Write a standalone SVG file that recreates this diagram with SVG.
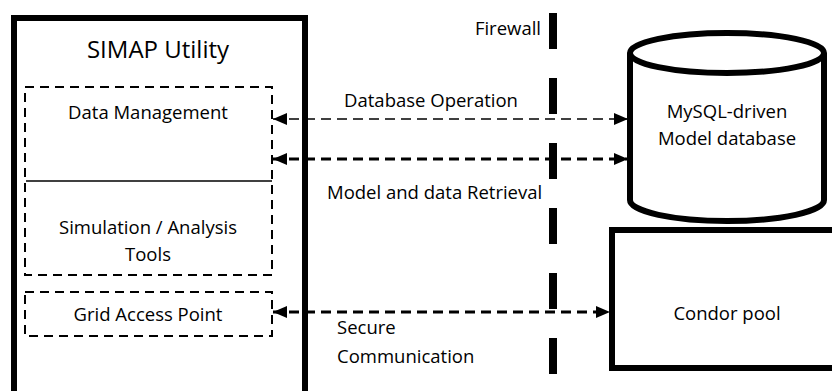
<svg xmlns="http://www.w3.org/2000/svg" width="832" height="391" viewBox="0 0 832 391">
  <style>
    text { font-family: "Open Sans", "Liberation Sans", sans-serif; fill: #000; }
    .lbl { font-size: 18.5px; }
    .mid { text-anchor: middle; }
    .thick { fill: #fff; stroke: #000; stroke-width: 6; }
    .sub { fill: none; stroke: #000; stroke-width: 2; stroke-dasharray: 9 6; }
    .link { fill: none; stroke: #000; stroke-width: 3; stroke-dasharray: 10 6; }
    .link.thin { stroke-width: 1.6; }
  </style>
  <defs>
    <marker id="head" viewBox="0 0 14 12" refX="14" refY="6" markerWidth="14" markerHeight="12" markerUnits="userSpaceOnUse" orient="auto-start-reverse">
      <path d="M0,0 L14,6 L0,12 Z" fill="#000"/>
    </marker>
  </defs>
  <rect width="832" height="391" fill="#fff"/>

  <!-- SIMAP Utility container -->
  <g id="simap">
    <rect class="thick" x="14" y="18" width="291" height="390"/>
    <text x="158" y="58" class="mid" font-size="24">SIMAP Utility</text>
  </g>

  <g id="data-tools">
    <rect class="sub" x="25" y="87" width="247" height="188"/>
    <line x1="26" y1="181" x2="272" y2="181" stroke="#000" stroke-width="1.5"/>
    <text x="148" y="119" class="lbl mid">Data Management</text>
    <text x="148" y="234" class="lbl mid">Simulation / Analysis</text>
    <text x="148" y="261" class="lbl mid">Tools</text>
  </g>

  <g id="grid-access">
    <rect class="sub" x="25" y="292" width="247" height="44"/>
    <text x="148" y="321" class="lbl mid">Grid Access Point</text>
  </g>

  <!-- Firewall -->
  <g id="firewall">
    <line x1="553" y1="13" x2="553" y2="376" stroke="#000" stroke-width="8" stroke-dasharray="36 29"/>
    <text x="541" y="35" class="lbl" text-anchor="end">Firewall</text>
  </g>

  <!-- Model database cylinder -->
  <g id="model-db">
    <path class="thick" d="M630,53 L630,200 A97,21 0 0 0 824,200 L824,53"/>
    <ellipse class="thick" cx="727" cy="53" rx="97" ry="20"/>
    <text x="727" y="118" class="lbl mid">MySQL-driven</text>
    <text x="727" y="145" class="lbl mid">Model database</text>
  </g>

  <!-- Condor pool -->
  <g id="condor">
    <rect class="thick" x="612" y="230" width="230" height="138"/>
    <text x="727" y="320" class="lbl mid">Condor pool</text>
  </g>

  <!-- Connectors -->
  <g id="connectors">
    <line class="link thin" x1="273" y1="119" x2="628" y2="119" marker-start="url(#head)" marker-end="url(#head)"/>
    <line class="link" x1="273" y1="159" x2="628" y2="159" marker-start="url(#head)" marker-end="url(#head)"/>
    <line class="link" x1="273" y1="312" x2="610" y2="312" marker-start="url(#head)" marker-end="url(#head)"/>
    <text x="431" y="107" class="lbl mid">Database Operation</text>
    <text x="327" y="199" class="lbl">Model and data Retrieval</text>
    <text x="337" y="334" class="lbl">Secure</text>
    <text x="337" y="363" class="lbl">Communication</text>
  </g>
</svg>
